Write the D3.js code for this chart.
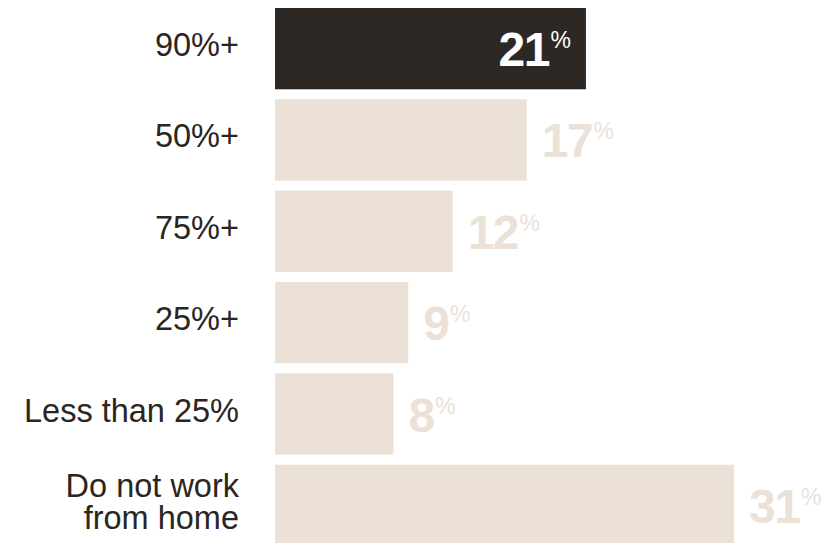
<!DOCTYPE html>
<html>
<head>
<meta charset="utf-8">
<script src="https://cdn.jsdelivr.net/npm/d3@7"></script>
<style>
  html, body { margin: 0; padding: 0; background: #ffffff; }
  svg { display: block; }
</style>
</head>
<body>
<div id="chart"></div>
<script>
// Share of working time spent from home
const categories = ["90%+", "50%+", "75%+", "25%+", "Less than 25%", "Do not work\nfrom home"];
const values = [21, 17, 12, 9, 8, 31];
const highlighted = ["90%+"];

const width = 828, height = 543;
const darkColor = "#2e2825";
const lightColor = "#ece1d7";
const textColor = "#2b2522";
const fontFamily = "'Liberation Sans', Arial, Helvetica, sans-serif";

const svg = d3.select("#chart").append("svg")
  .attr("width", width)
  .attr("height", height);

const x = d3.scaleLinear().domain([0, 31]).range([275, 734]);
const y = d3.scaleBand().domain(categories).range([8, 546]).paddingInner(0.11).paddingOuter(0);

const data = categories.map((c, i) => ({ cat: c, value: values[i], hi: highlighted.includes(c) }));

// bars
svg.append("g").selectAll("rect")
  .data(data)
  .join("rect")
  .attr("x", x(0))
  .attr("y", d => y(d.cat))
  .attr("width", d => x(d.value) - x(0))
  .attr("height", y.bandwidth())
  .attr("fill", d => d.hi ? darkColor : lightColor);

// category labels, one text per line
const lineHeight = 31.5;
svg.append("g").selectAll("g")
  .data(data)
  .join("g")
  .each(function(d) {
    const lines = d.cat.split("\n");
    const cy = y(d.cat) + y.bandwidth() / 2;
    const base = cy + 7.5 - (lines.length - 1) * lineHeight / 2;
    d3.select(this).selectAll("text")
      .data(lines)
      .join("text")
      .attr("x", 239)
      .attr("y", (ln, i) => base + i * lineHeight)
      .attr("text-anchor", "end")
      .attr("font-family", fontFamily)
      .attr("font-size", 32.5)
      .attr("fill", textColor)
      .text(ln => ln);
  });

// value labels: inside the highlighted bar, outside otherwise
const valLabels = svg.append("g").selectAll("text")
  .data(data)
  .join("text")
  .attr("font-family", fontFamily)
  .attr("fill", d => d.hi ? "#ffffff" : lightColor)
  .attr("text-anchor", d => d.hi ? "end" : "start")
  .attr("x", d => d.hi ? x(d.value) - 15 : x(d.value) + 15)
  .attr("y", d => y(d.cat) + y.bandwidth() / 2 + 17.5);

valLabels.append("tspan")
  .attr("font-size", 48)
  .attr("font-weight", "bold")
  .attr("letter-spacing", -1.5)
  .text(d => d.value);

valLabels.append("tspan")
  .attr("font-size", 23)
  .attr("dx", 1.5)
  .attr("dy", -18)
  .text("%");
</script>
</body>
</html>
